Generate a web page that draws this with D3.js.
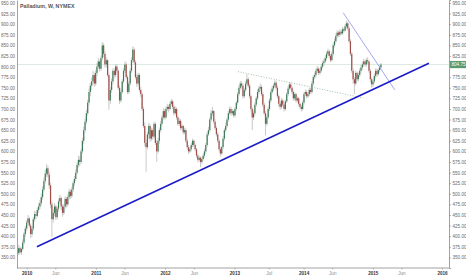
<!DOCTYPE html>
<html>
<head>
<meta charset="utf-8">
<script src="https://cdn.jsdelivr.net/npm/d3@7"></script>
<style>
  body { margin: 0; background: #fff; }
  svg { display: block; font-family: "Liberation Sans", Arial, sans-serif; }
</style>
</head>
<body>
<div id="chart"></div>
<script>
////////////////////////////////////////////////////////////
//////////// Palladium weekly candles - NYMEX //////////////
////////////////////////////////////////////////////////////

var width = 466,
    height = 275;

//Weekly bars, first one in the week of 20 Nov 2009
var firstWeek = new Date(2009, 10, 20);

var closes = [
  372,362,370,385,405,418,432,442,425,405,
  418,440,452,448,462,470,478,492,510,530,
  548,560,545,520,475,440,455,470,445,465,
  482,490,470,455,470,488,475,492,505,495,
  510,525,535,550,568,580,575,600,625,650,
  670,690,715,740,755,765,780,760,785,800,
  812,795,820,850,830,805,815,780,720,745,
  765,790,780,800,790,750,720,740,765,790,
  805,775,740,760,790,815,840,810,775,760,
  780,745,735,700,660,620,610,640,660,630,
  650,635,665,620,600,625,650,665,680,695,
  680,700,705,700,712,718,705,690,700,680,
  665,672,655,660,645,650,625,610,600,605,
  615,625,615,605,590,580,585,575,582,590,
  600,615,640,650,675,690,695,670,655,640,
  625,605,595,610,630,650,660,675,690,700,
  690,695,685,700,715,735,750,760,755,730,
  745,760,770,755,730,700,680,690,710,725,
  740,748,752,735,710,690,665,680,700,720,
  740,748,755,762,750,730,712,705,720,710,
  700,718,735,748,758,750,740,725,735,720,
  725,712,705,700,715,735,740,730,735,745,
  740,760,775,780,790,795,785,790,800,808,
  812,820,830,836,825,815,830,850,860,872,
  880,875,882,878,888,885,895,902,890,860,
  830,790,770,760,785,770,780,790,798,805,
  812,805,815,812,790,770,758,765,778,790,
  782,792,798,804.75
];

var highs = [
  380,376,374,392,410,424,438,450,446,430,
  424,446,460,458,468,478,486,500,518,538,
  556,570,566,552,526,482,462,478,474,470,
  488,498,494,475,476,494,492,498,512,510,
  516,530,542,558,574,590,588,606,632,658,
  678,698,722,748,762,774,790,786,792,808,
  820,816,826,858,855,836,822,818,786,752,
  772,796,795,806,805,794,756,746,770,796,
  812,810,780,766,796,822,848,845,815,782,
  786,784,752,740,706,668,628,646,668,664,
  656,654,670,668,626,632,656,672,686,702,
  700,706,712,710,718,724,722,710,706,704,
  684,678,676,666,662,656,654,630,615,610,
  620,630,628,618,608,595,590,588,586,595,
  606,620,646,658,680,698,705,698,676,660,
  645,630,610,614,636,655,668,680,696,706,
  705,700,698,705,720,740,756,766,765,760,
  750,766,782,775,760,734,705,696,716,730,
  746,754,760,756,740,715,695,686,706,726,
  746,754,760,768,766,755,734,716,726,724,
  714,722,740,754,764,762,754,744,740,738,
  730,728,716,710,720,740,746,744,740,750,
  750,766,780,786,796,802,798,796,806,814,
  818,826,836,842,840,830,836,856,866,878,
  886,884,888,886,894,892,900,908,906,894,
  865,834,796,775,790,788,786,796,804,812,
  818,816,820,822,815,795,775,770,784,796,
  795,796,804,808
];

var lows = [
  355,358,356,366,380,398,412,428,420,395,
  398,412,434,440,444,455,464,472,486,505,
  524,540,538,512,466,398,432,448,438,440,
  458,476,462,446,450,465,468,470,486,488,
  490,504,518,530,545,562,565,570,595,618,
  644,664,684,708,730,745,758,752,755,778,
  794,788,790,815,822,798,798,775,698,712,
  738,758,772,775,785,745,712,715,735,760,
  785,770,735,735,755,785,810,805,770,752,
  755,740,728,695,655,612,552,605,630,622,
  625,628,630,615,575,595,618,645,660,675,
  675,676,695,692,696,708,700,684,686,675,
  660,660,650,650,640,640,620,604,594,596,
  600,610,610,600,585,574,576,563,570,578,
  585,595,610,636,645,670,684,665,650,635,
  620,600,588,592,605,625,645,655,670,686,
  684,685,680,680,695,710,730,745,748,724,
  726,740,755,750,725,695,650,674,685,705,
  720,735,742,730,705,685,638,660,676,695,
  715,735,742,750,745,725,706,698,700,705,
  694,696,714,730,744,745,735,720,720,715,
  715,706,700,694,696,710,730,725,726,730,
  735,736,755,770,775,785,780,780,786,795,
  802,808,815,825,820,810,812,826,845,855,
  866,870,870,874,875,880,882,890,885,855,
  825,785,760,735,755,765,765,775,785,792,
  800,800,800,806,785,762,750,752,760,772,
  776,778,786,795
];
var firstOpen = 360;

//Price axis ticks (the right side hides 800 under the last price badge)
var priceTicks = [350,375,400,425,450,475,500,525,550,575,600,625,650,675,700,725,750,775,800,825,850,875,900,925,950];
var lastPrice = 804.75;

//Time axis labels
var timeTicks = [
  {date: new Date(2010,0,1), label: "2010", year: true},
  {date: new Date(2010,5,1), label: "Jun", year: false},
  {date: new Date(2011,0,1), label: "2011", year: true},
  {date: new Date(2011,5,1), label: "Jun", year: false},
  {date: new Date(2012,0,1), label: "2012", year: true},
  {date: new Date(2012,5,1), label: "Jun", year: false},
  {date: new Date(2013,0,1), label: "2013", year: true},
  {date: new Date(2013,6,1), label: "Jul", year: false},
  {date: new Date(2014,0,1), label: "2014", year: true},
  {date: new Date(2014,5,1), label: "Jun", year: false},
  {date: new Date(2015,0,1), label: "2015", year: true},
  {date: new Date(2015,5,1), label: "Jun", year: false},
  {date: new Date(2016,0,1), label: "2016", year: true}
];

//Drawn trend lines: [date, price] end points
var supportLine = [[new Date(2010,1,24), 375], [new Date(2015,9,24), 808]];
var fallingLine = [[new Date(2014,6,29), 927], [new Date(2015,3,27), 745]];
var dottedLine  = [[new Date(2013,0,20), 788], [new Date(2014,10,10), 726]];

////////////////////////////////////////////////////////////
/////////////////////// Build bars /////////////////////////
////////////////////////////////////////////////////////////

var bars = closes.map(function(c, i) {
  var d = new Date(firstWeek);
  d.setDate(d.getDate() + 7 * i);
  return {date: d, open: i === 0 ? firstOpen : closes[i-1], close: c, high: highs[i], low: lows[i]};
});

var plot = {left: 17, right: 449, top: 0, bottom: 268};

var x = d3.scaleTime()
  .domain([new Date(2009,10,11), new Date(2016,1,7)])
  .range([plot.left, plot.right]);

var y = d3.scaleLinear()
  .domain([325, 957])
  .range([plot.bottom, plot.top]);

var svg = d3.select("#chart").append("svg")
  .attr("width", width)
  .attr("height", height);

//Last price line
svg.append("line")
  .attr("x1", plot.left).attr("x2", plot.right)
  .attr("y1", y(lastPrice)).attr("y2", y(lastPrice))
  .attr("stroke", "#dcebe2")
  .attr("stroke-width", 1);

//Candles
var candle = svg.append("g").selectAll("g")
  .data(bars)
  .enter().append("g");

candle.append("line")
  .attr("x1", function(d) { return x(d.date); })
  .attr("x2", function(d) { return x(d.date); })
  .attr("y1", function(d) { return y(d.high); })
  .attr("y2", function(d) { return y(d.low); })
  .attr("stroke", "#c4c4c4")
  .attr("stroke-width", 0.9);

candle.append("rect")
  .attr("x", function(d) { return x(d.date) - 0.6; })
  .attr("y", function(d) { return y(Math.max(d.open, d.close)); })
  .attr("width", 1.2)
  .attr("height", function(d) { return Math.max(0.8, Math.abs(y(d.open) - y(d.close))); })
  .attr("fill", function(d) { return d.close >= d.open ? "#3b7a55" : "#a04c47"; });

//Trend lines
var line = d3.line()
  .x(function(d) { return x(d[0]); })
  .y(function(d) { return y(d[1]); });

svg.append("path")
  .datum(dottedLine)
  .attr("d", line)
  .attr("fill", "none")
  .attr("stroke", "#8fae97")
  .attr("stroke-width", 0.8)
  .attr("stroke-dasharray", "1,1.6");

svg.append("path")
  .datum(fallingLine)
  .attr("d", line)
  .attr("fill", "none")
  .attr("stroke", "#8f8fe8")
  .attr("stroke-width", 0.8);

svg.append("path")
  .datum(supportLine)
  .attr("d", line)
  .attr("fill", "none")
  .attr("stroke", "#1c1cc8")
  .attr("stroke-width", 1.6);

////////////////////////////////////////////////////////////
///////////////////////// Axes /////////////////////////////
////////////////////////////////////////////////////////////

var rightAxis = d3.axisRight(y)
  .tickValues(priceTicks.filter(function(p) { return Math.abs(p - lastPrice) > 10; }))
  .tickSize(2)
  .tickPadding(1.5)
  .tickFormat(d3.format(".2f"));

var leftAxis = d3.axisLeft(y)
  .tickValues(priceTicks)
  .tickSize(0)
  .tickPadding(2)
  .tickFormat(d3.format(".2f"));

function styleAxis(g) {
  g.select(".domain").attr("stroke", "#8a8a8a").attr("stroke-width", 0.8);
  g.selectAll(".tick line").attr("stroke", "#8a8a8a").attr("stroke-width", 0.6);
  g.selectAll(".tick text")
    .attr("fill", "#6a6a6a")
    .style("font-size", "4.6px");
}

svg.append("g")
  .attr("transform", "translate(" + plot.right + ",0)")
  .call(rightAxis)
  .call(styleAxis);

svg.append("g")
  .attr("transform", "translate(" + plot.left + ",0)")
  .call(leftAxis)
  .call(styleAxis);

var bottomAxis = d3.axisBottom(x)
  .tickValues(timeTicks.map(function(t) { return t.date; }))
  .tickSize(1.5)
  .tickPadding(2)
  .tickFormat(function(d, i) { return timeTicks[i].label; });

var bAxis = svg.append("g")
  .attr("transform", "translate(0," + plot.bottom + ")")
  .call(bottomAxis)
  .call(styleAxis);

bAxis.select(".domain").attr("d", "M" + plot.left + ",0H" + plot.right);
bAxis.selectAll(".tick text")
  .attr("fill", function(d, i) { return timeTicks[i].year ? "#333" : "#8a8a8a"; })
  .style("font-weight", function(d, i) { return timeTicks[i].year ? "bold" : "normal"; });

//Last price badge
svg.append("rect")
  .attr("x", plot.right + 1)
  .attr("y", y(lastPrice) - 3.6)
  .attr("width", 16)
  .attr("height", 7.2)
  .attr("fill", "#5a9a70");

svg.append("text")
  .attr("x", plot.right + 2.5)
  .attr("y", y(lastPrice))
  .attr("dy", "0.35em")
  .attr("fill", "#fff")
  .style("font-size", "4.6px")
  .text(d3.format(".2f")(lastPrice));

//Title
svg.append("text")
  .attr("x", 20)
  .attr("y", 7.5)
  .attr("fill", "#555")
  .style("font-size", "5.3px")
  .style("font-weight", "bold")
  .text("Palladium, W, NYMEX");
</script>
</body>
</html>
